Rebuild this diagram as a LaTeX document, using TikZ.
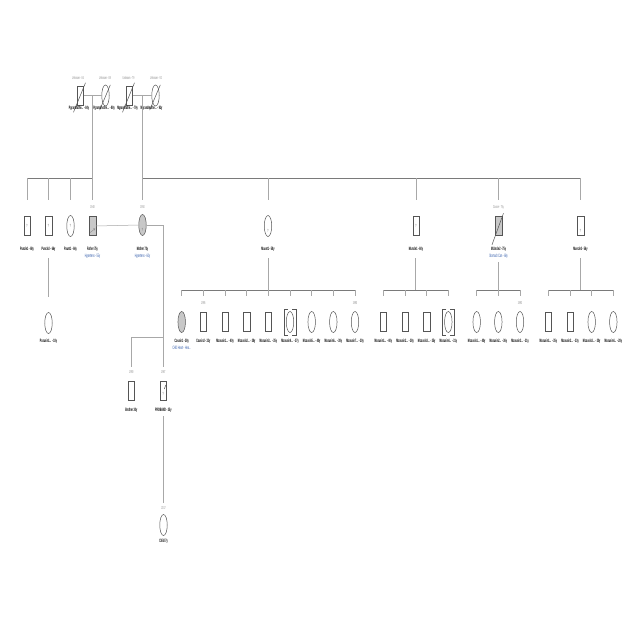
\documentclass[tikz,border=0pt]{standalone}
\usepackage{fontspec}
\setmainfont{Liberation Sans}
\newfontfamily\condf[FakeStretch=0.45]{Liberation Sans}
\usetikzlibrary{shapes.geometric,calc}
\definecolor{linec}{HTML}{A8A8A8}
\definecolor{sibc}{HTML}{7A7A7A}
\definecolor{shapec}{HTML}{555555}
\definecolor{affc}{HTML}{C8C8C8}
\definecolor{dxc}{HTML}{2A55A8}
\definecolor{yrc}{HTML}{8A8A8A}
\begin{document}
\begin{tikzpicture}[x=1pt,y=-1pt,
  male/.style={draw=shapec, line width=0.5pt, rectangle, minimum width=6.5pt, minimum height=19pt, inner sep=0pt, fill=white},
  female/.style={draw=shapec, line width=0.5pt, ellipse, minimum width=7.5pt, minimum height=21pt, inner sep=0pt, fill=white},
  aff/.style={fill=affc},
  lbl/.style={font=\condf\fontsize{4.8}{5}\selectfont\bfseries, text=black, inner sep=0pt, anchor=north},
  dx/.style={font=\condf\fontsize{4.8}{5}\selectfont, text=dxc, inner sep=0pt, anchor=north},
  yr/.style={font=\condf\fontsize{4.2}{5}\selectfont, text=yrc, inner sep=0pt},
  q/.style={font=\condf\fontsize{4.5}{5}\selectfont, text=shapec, inner sep=0pt},
  ln/.style={draw=linec, line width=0.5pt},
  sib/.style={draw=sibc, line width=0.7pt},
  slash/.style={draw=shapec, line width=0.5pt},
  brk/.style={draw=shapec, line width=0.5pt},
]
\fill[white] (0,0) rectangle (640,640);
\useasboundingbox (0,0) rectangle (640,640);

% ---------- grandparents ----------
\node[male] (pgf) at (80,95.5) {};
\node[female] (pgm) at (105.5,95.5) {};
\node[male] (mgf) at (129,95.5) {};
\node[female] (mgm) at (155.5,95.5) {};
\draw[slash] ([shift={(-3,7)}]pgf.south west) -- ([shift={(2,-3)}]pgf.north east);
\draw[slash] ([shift={(-3,7)}]pgm.south west) -- ([shift={(2,-3)}]pgm.north east);
\draw[slash] ([shift={(-3,7)}]mgf.south west) -- ([shift={(2,-3)}]mgf.north east);
\draw[slash] ([shift={(-3,7)}]mgm.south west) -- ([shift={(2,-3)}]mgm.north east);
\node[yr] (pgfy) at (78,78) {Unknown - 84};
\node[yr] (pgmy) at (105,78) {Unknown - 88};
\node[yr] (mgfy) at (128.5,78) {Unknown - 79};
\node[yr] (mgmy) at (156,78) {Unknown - 92};
\node[lbl] (pgfl) at (79,105.5) {Pgrandfathe... - 84y};
\node[lbl] (pgml) at (104,105.5) {Pgrandmothe... - 88y};
\node[lbl] (mgfl) at (127.5,105.5) {Mgrandfathe... - 79y};
\node[lbl] (mgml) at (151.5,105.5) {Mgrandmothe... - 92y};
\coordinate (pgmid) at (92.5,95.5);
\coordinate (mgmid) at (142,95.5);
\draw[ln] (pgf.east) -- (pgm.west);
\draw[ln] (mgf.east) -- (mgm.west);

% ---------- sibship lines gen 2 ----------
\coordinate (ps0) at (27,178);
\coordinate (ps1) at (48.5,178);
\coordinate (ps2) at (70.5,178);
\coordinate (ps3) at (92.5,178);
\coordinate (ms0) at (142,178);
\coordinate (ms1) at (268,178);
\coordinate (ms2) at (416,178);
\coordinate (ms3) at (498.5,178);
\coordinate (ms4) at (580.5,178);
\draw[ln] (pgmid) -- (ps3);
\draw[ln] (mgmid) -- (ms0);
\draw[sib] (ps0) -- (ps3);
\draw[sib] (ms0) -- (ms4);
\foreach \c in {ps0,ps1,ps2,ps3,ms0,ms1,ms2,ms3,ms4} {\draw[ln] (\c) -- ++(0,22);}

% ---------- generation 2 ----------
\node[male] (pu1) at (27,226) {};
\node[male] (pu2) at (48.5,226) {};
\node[female] (pa1) at (70.5,226) {};
\node[male,aff] (fa) at (92.5,226) {};
\node[female,aff] (mo) at (142.5,225) {};
\node[female] (ma1) at (268,226) {};
\node[male] (mu1) at (416,226) {};
\node[male,aff] (mu2) at (498.5,226) {};
\node[male] (mu3) at (580.5,226) {};
\draw[slash] ([shift={(-3,9)}]mu2.south west) -- ([shift={(1.5,-3)}]mu2.north east);
\node[q] at (pu1) {?};
\node[q] at (pu2) {?};
\node[q] at (pa1) {?};
\node[q] at ([yshift=-5]fa.center) {\tiny$\nearrow$};
\node[q] at ([yshift=-5]mo.center) {?};
\node[q] at ([yshift=-5]ma1.center) {?};
\node[q] at (mu1) {?};
\node[q] at ([yshift=-5]mu3.center) {?};
\node[yr] (fay) at (92.5,207) {1948};
\node[yr] (moy) at (142.5,207) {1950};
\node[yr] (mu2y) at (498.5,207) {Cancer - 75y};
\node[lbl] (pu1l) at (27,246.5) {Puncle1 - 68y};
\node[lbl] (pu2l) at (48.5,246.5) {Puncle2 - 66y};
\node[lbl] (pa1l) at (70.5,246.5) {Paunt1 - 64y};
\node[lbl] (fal) at (92.5,246.5) {Father 75y};
\node[dx] (fad) at (92.5,253.5) {Hypertens - 55y};
\node[lbl] (mol) at (142.5,246.5) {Mother 73y};
\node[dx] (mod) at (142.5,253.5) {Hypertens - 60y};
\node[lbl] (ma1l) at (268,246.5) {Maunt1 - 58y};
\node[lbl] (mu1l) at (416,246.5) {Muncle1 - 60y};
\node[lbl] (mu2l) at (498.5,246.5) {M.Uncle2 - 75y};
\node[dx] (mu2d) at (498.5,253.5) {Stomach Can - 68y};
\node[lbl] (mu3l) at (580.5,246.5) {Muncle3 - 56y};

% ---------- parents -> children ----------
\coordinate (pdesc) at (163.3,225);
\coordinate (pbj) at (163.3,337);
\coordinate (bj) at (131.3,337);
\coordinate (probtop) at (163.3,367);
\coordinate (brtop) at (131.3,367);
\draw[ln] (fa.east) -- (mo.west);
\draw[ln] (mo.east) -- (pdesc) -- (pbj) -- (probtop);
\draw[ln] (bj) -- (pbj);
\draw[ln] (bj) -- (brtop);

\node[male] (br) at (131.3,391) {};
\node[male] (pro) at (163.3,391) {};
\node[q] at ([yshift=-3]pro.center) {?};
\draw[slash] ([shift={(1,-2)}]pro.center) -- ([shift={(2.5,-6)}]pro.center);
\node[yr] (bry) at (131.3,372) {1990};
\node[yr] (proy) at (163.3,372) {1987};
\node[lbl] (brl) at (131.3,407.5) {Brother 30y};
\node[lbl] (prol) at (163.3,407.5) {PROBAND - 35y};

\coordinate (chtop) at (163.3,416);
\coordinate (chbot) at (163.3,503);
\draw[ln] (chtop) -- (chbot);
\node[female] (ch) at (163.5,525) {};
\node[yr] (chy) at (163.5,508.5) {2017};
\node[lbl] (chl) at (163.5,538.5) {Child 7y};

% ---------- paternal cousin ----------
\coordinate (pct) at (48.5,258);
\coordinate (pcb) at (48.5,297);
\draw[ln] (pct) -- (pcb);
\node[female] (pc1) at (48.5,323) {};
\node[lbl] (pc1l) at (48.5,339) {Pcousin1... - 18y};

% ---------- Maunt1 children ----------
\coordinate (a1t) at (268,258);
\coordinate (a1j) at (268,290);
\coordinate (a1s) at (181.7,290);
\coordinate (a1e) at (355,290);
\draw[ln] (a1t) -- (a1j);
\draw[sib] (a1s) -- (a1e);
\foreach \k in {0,...,8} {\draw[ln] ($(a1s)+(21.66*\k,0)$) -- ++(0,6);}
\node[female,aff] (c1) at (181.7,322) {};
\node[male] (c2) at (203.3,322) {};
\node[male] (c3) at (225,322) {};
\node[male] (c4) at (246.7,322) {};
\node[male] (c5) at (268.3,322) {};
\node[female] (c6) at (290,322) {};
\node[female] (c7) at (311.7,322) {};
\node[female] (c8) at (333.3,322) {};
\node[female] (c9) at (355,322) {};
\draw[brk] ([shift={(-2,-2)}]c6.north) -- ([shift={(-6,-2)}]c6.north) -- ([shift={(-6,2)}]c6.south) -- ([shift={(-2,2)}]c6.south);
\draw[brk] ([shift={(2,-2)}]c6.north) -- ([shift={(6,-2)}]c6.north) -- ([shift={(6,2)}]c6.south) -- ([shift={(2,2)}]c6.south);
\node[yr] (c2y) at (203.3,303) {1995};
\node[yr] (c9y) at (355,303) {1990};
\node[lbl] (c1l) at (181.7,338.5) {Cousin1 - 38y};
\node[dx] (c1d) at (181.7,346) {CHD Heart - Hea...};
\node[lbl] (c2l) at (203.3,338.5) {Cousin2 - 32y};
\node[lbl] (c3l) at (225,338.5) {Mcousin1... - 40y};
\node[lbl] (c4l) at (246.7,338.5) {Mcousin2... - 38y};
\node[lbl] (c5l) at (268.3,338.5) {Mcousin3... - 35y};
\node[lbl] (c6l) at (290,338.5) {Mcousin4... - 37y};
\node[lbl] (c7l) at (311.7,338.5) {Mcousin5... - 40y};
\node[lbl] (c8l) at (333.3,338.5) {Mcousin6... - 38y};
\node[lbl] (c9l) at (355,338.5) {Mcousin7... - 30y};

% ---------- Muncle1 children ----------
\coordinate (u1t) at (415.7,258);
\coordinate (u1j) at (415.7,290);
\coordinate (u1s) at (383.3,290);
\coordinate (u1e) at (448.3,290);
\draw[ln] (u1t) -- (u1j);
\draw[sib] (u1s) -- (u1e);
\foreach \k in {0,...,3} {\draw[ln] ($(u1s)+(21.66*\k,0)$) -- ++(0,6);}
\node[male] (d1) at (383.3,322) {};
\node[male] (d2) at (405,322) {};
\node[male] (d3) at (426.7,322) {};
\node[female] (d4) at (448.3,322) {};
\draw[brk] ([shift={(-2,-2)}]d4.north) -- ([shift={(-6,-2)}]d4.north) -- ([shift={(-6,2)}]d4.south) -- ([shift={(-2,2)}]d4.south);
\draw[brk] ([shift={(2,-2)}]d4.north) -- ([shift={(6,-2)}]d4.north) -- ([shift={(6,2)}]d4.south) -- ([shift={(2,2)}]d4.south);
\node[lbl] (d1l) at (383.3,338.5) {Mcousin1... - 40y};
\node[lbl] (d2l) at (405,338.5) {Mcousin2... - 38y};
\node[lbl] (d3l) at (426.7,338.5) {Mcousin3... - 35y};
\node[lbl] (d4l) at (448.3,338.5) {Mcousin4... - 31y};

% ---------- Muncle2 children ----------
\coordinate (u2t) at (498.3,262);
\coordinate (u2j) at (498.3,290);
\coordinate (u2s) at (476.7,290);
\coordinate (u2e) at (520,290);
\draw[ln] (u2t) -- (u2j);
\draw[sib] (u2s) -- (u2e);
\foreach \k in {0,...,2} {\draw[ln] ($(u2s)+(21.66*\k,0)$) -- ++(0,6);}
\node[female] (e1) at (476.7,322) {};
\node[female] (e2) at (498.3,322) {};
\node[female] (e3) at (520,322) {};
\node[yr] (e3y) at (520,303) {1993};
\node[lbl] (e1l) at (476.7,338.5) {Mcousin1... - 40y};
\node[lbl] (e2l) at (498.3,338.5) {Mcousin2... - 36y};
\node[lbl] (e3l) at (520,338.5) {Mcousin3... - 31y};

% ---------- Muncle3 children ----------
\coordinate (u3t) at (580.5,258);
\coordinate (u3j) at (580.5,290);
\coordinate (u3s) at (548.3,290);
\coordinate (u3e) at (613.3,290);
\draw[ln] (u3t) -- (u3j);
\draw[sib] (u3s) -- (u3e);
\foreach \k in {0,...,3} {\draw[ln] ($(u3s)+(21.66*\k,0)$) -- ++(0,6);}
\node[male] (f1) at (548.3,322) {};
\node[male] (f2) at (570,322) {};
\node[female] (f3) at (591.7,322) {};
\node[female] (f4) at (613.3,322) {};
\node[lbl] (f1l) at (548.3,338.5) {Mcousin1... - 35y};
\node[lbl] (f2l) at (570,338.5) {Mcousin2... - 33y};
\node[lbl] (f3l) at (591.7,338.5) {Mcousin3... - 30y};
\node[lbl] (f4l) at (613.3,338.5) {Mcousin4... - 28y};
\end{tikzpicture}
\end{document}
